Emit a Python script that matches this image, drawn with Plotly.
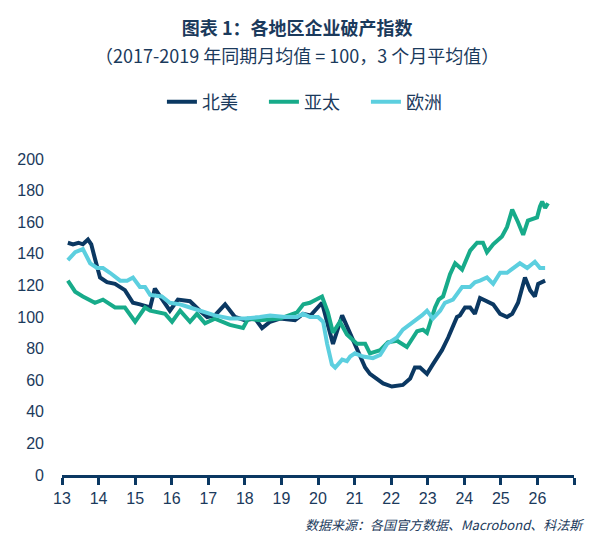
import plotly.graph_objects as go

# ---- data (x in decimal years, 13 = 2013) ----
na_x = [13.16, 13.30, 13.45, 13.57, 13.71, 13.80, 13.90, 14.04, 14.23, 14.45, 14.72, 14.94, 15.13, 15.41,
        15.54, 15.73, 15.95, 16.17, 16.50, 16.77, 16.97, 17.18, 17.46, 17.73, 18.00, 18.28, 18.47, 18.69,
        18.96, 19.37, 19.59, 19.80, 20.11, 20.27, 20.41, 20.66, 20.88, 21.07, 21.29, 21.42, 21.61, 21.78,
        22.02, 22.32, 22.52, 22.65, 22.79, 22.98, 23.14, 23.39, 23.56, 23.80, 23.88, 24.02, 24.16, 24.29,
        24.43, 24.62, 24.79, 24.98, 25.17, 25.31, 25.47, 25.66, 25.80, 25.93, 26.02, 26.21]
na_y = [147, 146, 147, 146, 149, 146, 137, 125, 122, 121, 117, 109, 108, 106,
        118, 111, 104, 111, 110, 104, 100, 101, 108, 100, 98, 99, 93, 97,
        99, 98, 102, 101, 109, 95, 83, 101, 90, 79, 68, 64, 61, 58,
        56, 57, 61, 68, 68, 64, 70, 79, 87, 100, 101, 106, 106, 102,
        112, 110, 108, 102, 100, 102, 109, 125, 117, 113, 121, 123]

ap_x = [13.16, 13.36, 13.57, 13.90, 14.12, 14.45, 14.72, 15.00, 15.27, 15.41, 15.82, 16.01, 16.23, 16.50,
        16.69, 16.91, 17.18, 17.59, 17.95, 18.09, 18.41, 18.96, 19.43, 19.60, 19.78, 20.11, 20.27, 20.41,
        20.60, 20.79, 21.07, 21.29, 21.42, 21.70, 21.91, 22.16, 22.43, 22.71, 22.87, 22.98, 23.20, 23.30,
        23.42, 23.61, 23.75, 23.94, 24.16, 24.35, 24.51, 24.62, 24.79, 25.03, 25.17, 25.31, 25.47, 25.61,
        25.74, 25.99, 26.07, 26.13, 26.21, 26.29]
ap_y = [123, 116, 113, 109, 111, 106, 106, 97, 106, 104, 102, 97, 104, 97,
        102, 96, 99, 95, 93, 99, 98, 99, 103, 108, 109, 113, 103, 90,
        97, 89, 83, 83, 77, 79, 84, 85, 81, 91, 92, 90, 106, 111,
        113, 127, 134, 130, 142, 147, 147, 141, 146, 151, 157, 168, 160, 152,
        161, 163, 170, 173, 169, 172]

eu_x = [13.16, 13.36, 13.57, 13.77, 13.96, 14.12, 14.31, 14.59, 14.78, 14.94, 15.13, 15.27, 15.41, 15.73,
        15.95, 16.23, 16.50, 16.91, 17.18, 17.59, 18.00, 18.41, 18.69, 19.10, 19.43, 19.59, 19.78, 20.00,
        20.14, 20.25, 20.38, 20.47, 20.66, 20.79, 20.88, 21.01, 21.23, 21.50, 21.70, 21.89, 22.16, 22.32,
        22.57, 22.71, 22.84, 22.98, 23.14, 23.34, 23.47, 23.69, 23.94, 24.16, 24.29, 24.43, 24.62, 24.79,
        24.98, 25.17, 25.33, 25.52, 25.72, 25.93, 26.07, 26.21]
eu_y = [136, 141, 143, 134, 131, 131, 128, 123, 123, 125, 119, 119, 114, 113,
        109, 108, 106, 103, 101, 99, 99, 100, 101, 100, 100, 102, 100, 100,
        97, 83, 70, 68, 73, 72, 75, 77, 75, 74, 76, 83, 87, 92,
        96, 99, 101, 104, 99, 104, 109, 111, 119, 119, 122, 123, 125, 121,
        128, 128, 131, 134, 131, 135, 131, 131]

series_names = ["北美", "亚太", "欧洲"]
tick_vals = list(range(13, 28))
tick_text = [str(v) for v in range(13, 27)] + [""]

NAVY = "#0b3862"
GREEN = "#17ab8a"
CYAN = "#5ccfdf"
TEXT = "#1b3a5c"
FONT = "Liberation Sans, Arial, Noto Sans CJK SC, sans-serif"
CJK = "Noto Sans CJK SC, Liberation Sans, sans-serif"

fig = go.Figure()
for name, xs, ys, col in [(series_names[0], na_x, na_y, NAVY),
                          (series_names[1], ap_x, ap_y, GREEN),
                          (series_names[2], eu_x, eu_y, CYAN)]:
    fig.add_trace(go.Scatter(x=xs, y=ys, mode="lines", name=name,
                             line=dict(color=col, width=4)))

fig.update_layout(
    width=598, height=534,
    margin=dict(l=62, r=24, t=159, b=59),
    paper_bgcolor="white", plot_bgcolor="white",
    font=dict(family=FONT, size=16, color=TEXT),
    showlegend=True,
    legend=dict(orientation="h", x=0.494, xanchor="center", y=(475 - 102) / 316, yanchor="middle",
                font=dict(family=CJK, size=18, color=TEXT), entrywidth=57, entrywidthmode="pixels",
                traceorder="normal"),
    title=dict(text="<b>图表 1：各地区企业破产指数</b>", x=0.497, xanchor="center", xref="container",
               y=1 - 29 / 534, yanchor="middle", yref="container",
               font=dict(family=CJK, size=18, color=TEXT)),
    annotations=[
        dict(text="（2017-2019 年同期月均值 = 100，3 个月平均值）", xref="paper", yref="paper",
             x=(297 - 62) / 512, y=(475 - 55) / 316, xanchor="center", yanchor="middle", showarrow=False,
             font=dict(family=CJK, size=18, color=TEXT)),
        dict(text="<i>数据来源：各国官方数据、Macrobond、科法斯</i>", xref="paper", yref="paper",
             x=(586 - 62) / 512, y=(475 - 524) / 316, xanchor="right", yanchor="middle", showarrow=False,
             font=dict(family=CJK, size=13, color=TEXT)),
    ],
)
fig.update_xaxes(range=[13, 27], tickvals=tick_vals, ticktext=tick_text,
                 showline=True, linecolor=NAVY, linewidth=2.5,
                 ticks="outside", ticklen=7, tickwidth=2.5, tickcolor=NAVY,
                 showgrid=False, zeroline=False, tickfont=dict(size=16, color=TEXT))
fig.update_yaxes(range=[0, 200], dtick=20, showgrid=False, zeroline=False, showline=False,
                 ticks="", ticklabelstandoff=17, tickfont=dict(size=16, color=TEXT))

fig.write_html("out.html")
